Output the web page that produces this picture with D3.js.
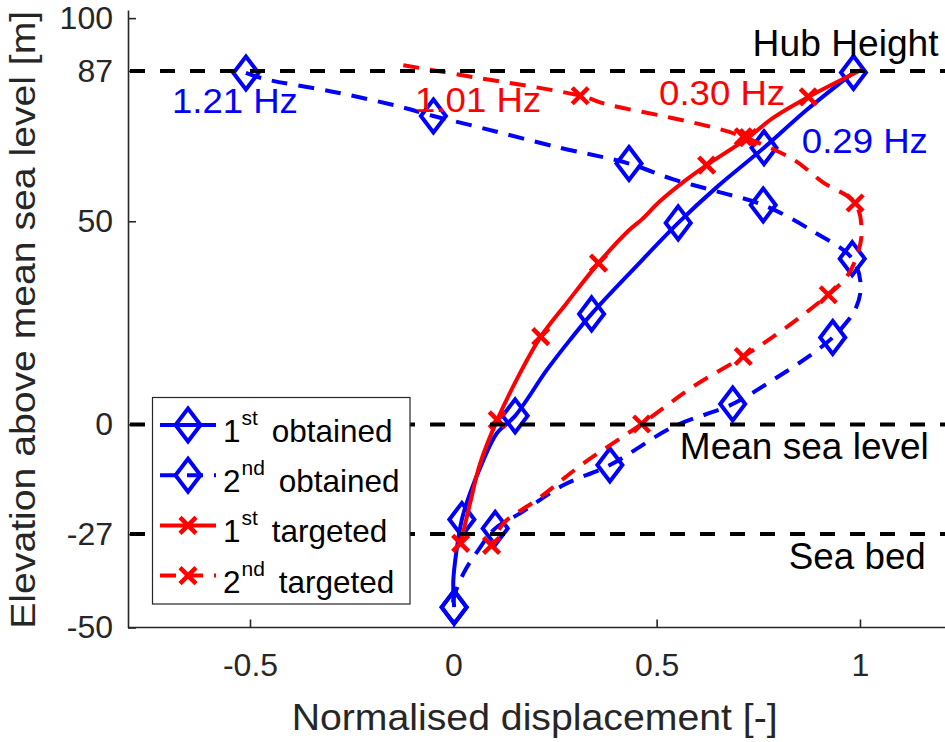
<!DOCTYPE html>
<html><head><meta charset="utf-8">
<script src="https://cdn.jsdelivr.net/npm/d3@7"></script>
<style>
body{margin:0;background:#fff;}
svg{display:block;font-family:"Liberation Sans",Arial,Helvetica,sans-serif;}
</style>
</head><body>
<svg id="chart" width="945" height="742"></svg>
<script>
// ---------------- data ----------------
const xLimits = [-0.8, 1.2];
const yLimits = [-50, 102];
const xTicks = [-0.5, 0, 0.5, 1];
const yTicks = [-50, -27, 0, 50, 87, 100];

const refLevels = [87, 0, -27];
const refLabels = ["Hub Height", "Mean sea level", "Sea bed"];
const refLabelX = [0.736, 0.557, 0.825];
const refLabelY = [90.6, -8.5, -35.7];

const freqLabels = ["1.21 Hz", "1.01 Hz", "0.30 Hz", "0.29 Hz"];
const freqSeries = ["obt2", "tgt2", "tgt1", "obt1"];
const freqX = [-0.692, -0.094, 0.506, 0.857];
const freqY = [76.6, 76.8, 78.6, 66.7];

// 1st obtained mode shape (0.29 Hz)
const obtained1Curve = [[0.002,-45],[0.000,-38.4],[0.008,-31],[0.021,-23.4],[0.041,-17],[0.074,-8.8],[0.107,-2.2],[0.152,2.1],[0.23,13.4],[0.287,20.8],[0.340,27.2],[0.445,38.4],[0.553,49.6],[0.648,58.4],[0.764,68.1],[0.87,77.5],[0.984,86.6]];
const obtained1Marks = [[0.984,86.6],[0.764,68.1],[0.553,49.6],[0.340,27.2],[0.152,2.1],[0.021,-23.4],[0.002,-45]];

// 2nd obtained mode shape (1.21 Hz)
const obtained2Curve = [[-0.51,86.5],[-0.463,85],[-0.287,81.7],[-0.139,78.4],[-0.049,75.9],[0.049,73.5],[0.262,68.1],[0.432,64.2],[0.541,60.3],[0.65,57.3],[0.762,54.0],[0.885,47.5],[0.981,40.8],[1.002,34],[0.988,28.2],[0.955,23.7],[0.933,21.4],[0.885,17.5],[0.787,11.0],[0.687,5.0],[0.541,-0.6],[0.385,-10],[0.27,-15],[0.164,-21.9],[0.103,-25.6],[0.061,-31],[0.025,-36.7],[0.0,-43.3],[0.002,-45]];
const obtained2Marks = [[-0.51,86.5],[-0.049,75.9],[0.432,64.2],[0.762,54.0],[0.981,40.8],[0.933,21.4],[0.687,5.0],[0.385,-10],[0.103,-25.6],[0.002,-45]];

// 1st targeted mode shape (0.30 Hz)
const targeted1Curve = [[1.004,87.3],[0.873,80.6],[0.787,75.5],[0.725,70.6],[0.623,63.8],[0.574,60.3],[0.508,54.9],[0.463,50.4],[0.43,47.6],[0.357,39.7],[0.279,29.9],[0.215,21.6],[0.164,12.6],[0.108,1.1],[0.066,-9.6],[0.041,-19.5],[0.018,-29.3]];
const targeted1Marks = [[0.873,80.6],[0.725,70.6],[0.623,63.8],[0.357,39.7],[0.215,21.6],[0.108,1.1],[0.018,-29.3]];

// 2nd targeted mode shape (1.01 Hz)
const targeted2Curve = [[-0.123,88.4],[0.048,85.5],[0.312,80.9],[0.377,78.8],[0.52,75.8],[0.639,73.1],[0.713,70.8],[0.836,65.2],[0.91,59.5],[0.988,54.5],[1.004,47.1],[0.99,40.8],[0.965,36],[0.922,31.9],[0.811,23.3],[0.713,16.7],[0.59,9.3],[0.463,0.1],[0.32,-9.6],[0.205,-18.6],[0.123,-24.4],[0.094,-29.8]];
const targeted2Marks = [[0.312,80.9],[0.713,70.8],[0.988,54.5],[0.922,31.9],[0.713,16.7],[0.463,0.1],[0.094,-29.8]];

const legendOrdinals = ["1", "2", "1", "2"];
const legendSups = ["st", "nd", "st", "nd"];
const legendWords = ["obtained", "obtained", "targeted", "targeted"];

// ---------------- drawing ----------------
const BLUE = "#0000ff", RED = "#ff0000", AX = "#262626";
const FONT = '"Liberation Sans",Arial,Helvetica,sans-serif';
const svg = d3.select("#chart");
const x = d3.scaleLinear().domain(xLimits).range([128, 941.3]);
const y = d3.scaleLinear().domain(yLimits).range([627.5, 10]);

const series = {
  obt1: {curve: obtained1Curve, marks: obtained1Marks, color: BLUE, dashed: false, marker: "diamond"},
  obt2: {curve: obtained2Curve, marks: obtained2Marks, color: BLUE, dashed: true,  marker: "diamond"},
  tgt1: {curve: targeted1Curve, marks: targeted1Marks, color: RED,  dashed: false, marker: "cross"},
  tgt2: {curve: targeted2Curve, marks: targeted2Marks, color: RED,  dashed: true,  marker: "cross"}
};
const order = ["obt1", "obt2", "tgt1", "tgt2"];

// axes
const gx = svg.append("g").attr("transform", `translate(0,${y(yLimits[0])})`)
  .call(d3.axisBottom(x).tickValues(xTicks).tickFormat(d => String(d))
    .tickSize(-8).tickSizeOuter(0).tickPadding(26))
  .attr("font-size", 32).attr("font-family", FONT);
const gy = svg.append("g").attr("transform", `translate(${x(xLimits[0])},0)`)
  .call(d3.axisLeft(y).tickValues(yTicks).tickFormat(d => String(d))
    .tickSize(-8).tickSizeOuter(0).tickPadding(15))
  .attr("font-size", 32).attr("font-family", FONT);
[gx, gy].forEach(g => {
  g.select(".domain").attr("stroke", AX).attr("stroke-width", 1.6);
  g.selectAll(".tick line").attr("stroke", AX).attr("stroke-width", 1.6);
  g.selectAll(".tick text").attr("fill", AX);
});
gx.select(".domain").attr("d", `M${x(xLimits[0])},0H945`);

svg.append("text").attr("x", (x(xLimits[0]) + x(xLimits[1])) / 2).attr("y", 730)
  .attr("text-anchor", "middle").attr("font-size", 36).attr("fill", AX)
  .attr("textLength", 486).attr("lengthAdjust", "spacingAndGlyphs")
  .text("Normalised displacement [-]");
svg.append("text").attr("transform", `translate(35,${(y(yLimits[0]) + y(yLimits[1])) / 2 + 1}) rotate(-90)`)
  .attr("text-anchor", "middle").attr("font-size", 35).attr("fill", AX)
  .attr("textLength", 618).attr("lengthAdjust", "spacingAndGlyphs")
  .text("Elevation above mean sea level [m]");

// series
const line = d3.line().x(d => x(d[0])).y(d => y(d[1])).curve(d3.curveCatmullRom.alpha(0.5));
function drawMarker(g, kind, cx, cy, color) {
  if (kind === "diamond") {
    g.append("path").attr("d", `M${cx},${cy - 16.5}L${cx + 12.5},${cy}L${cx},${cy + 16.5}L${cx - 12.5},${cy}Z`)
      .attr("fill", "none").attr("stroke", color).attr("stroke-width", 4);
  } else {
    g.append("path").attr("d", `M${cx - 8},${cy - 8}L${cx + 8},${cy + 8}M${cx - 8},${cy + 8}L${cx + 8},${cy - 8}`)
      .attr("fill", "none").attr("stroke", color).attr("stroke-width", 4.5);
  }
}
const plot = svg.append("g");
order.forEach(k => {
  const s = series[k];
  plot.append("path").datum(s.curve).attr("d", line)
    .attr("fill", "none").attr("stroke", s.color).attr("stroke-width", 4)
    .attr("stroke-dasharray", s.dashed ? "16,11" : null);
  s.marks.forEach(m => drawMarker(plot, s.marker, x(m[0]), y(m[1]), s.color));
});

// reference levels
const refWidths = [186, 249, 137];
refLevels.forEach((lv, i) => {
  svg.append("line").attr("x1", x(xLimits[0])).attr("x2", 945)
    .attr("y1", y(lv)).attr("y2", y(lv))
    .attr("stroke", "#000").attr("stroke-width", 4).attr("stroke-dasharray", "15,15")
    .attr("stroke-dashoffset", -2);
  svg.append("text").attr("x", x(refLabelX[i])).attr("y", y(refLabelY[i]))
    .attr("font-size", 36).attr("fill", "#000")
    .attr("textLength", refWidths[i]).attr("lengthAdjust", "spacingAndGlyphs")
    .text(refLabels[i]);
});

// frequency labels
freqLabels.forEach((t, i) => {
  svg.append("text").attr("x", x(freqX[i])).attr("y", y(freqY[i]))
    .attr("font-size", 35).attr("fill", series[freqSeries[i]].color)
    .attr("textLength", 126).attr("lengthAdjust", "spacingAndGlyphs").text(t);
});

// legend
const lg = svg.append("g");
lg.append("rect").attr("x", 152.5).attr("y", 397.5).attr("width", 257.5).attr("height", 206.5)
  .attr("fill", "#fff").attr("stroke", AX).attr("stroke-width", 1.2);
order.forEach((k, i) => {
  const s = series[k];
  const cy = 425 + i * 50.2;
  lg.append("line").attr("x1", 160).attr("x2", 216).attr("y1", cy).attr("y2", cy)
    .attr("stroke", s.color).attr("stroke-width", 4)
    .attr("stroke-dasharray", s.dashed ? "16,11" : null);
  drawMarker(lg, s.marker, 188, cy, s.color);
  const t = lg.append("text").attr("x", 223).attr("y", cy + 17).attr("font-size", 31.5).attr("fill", "#000");
  t.append("tspan").text(legendOrdinals[i]);
  t.append("tspan").attr("font-size", 21).attr("dy", -17).attr("dx", 1).text(legendSups[i]);
  t.append("tspan").attr("dy", 17).attr("dx", 5).text(" " + legendWords[i]);
});
</script>
</body></html>
